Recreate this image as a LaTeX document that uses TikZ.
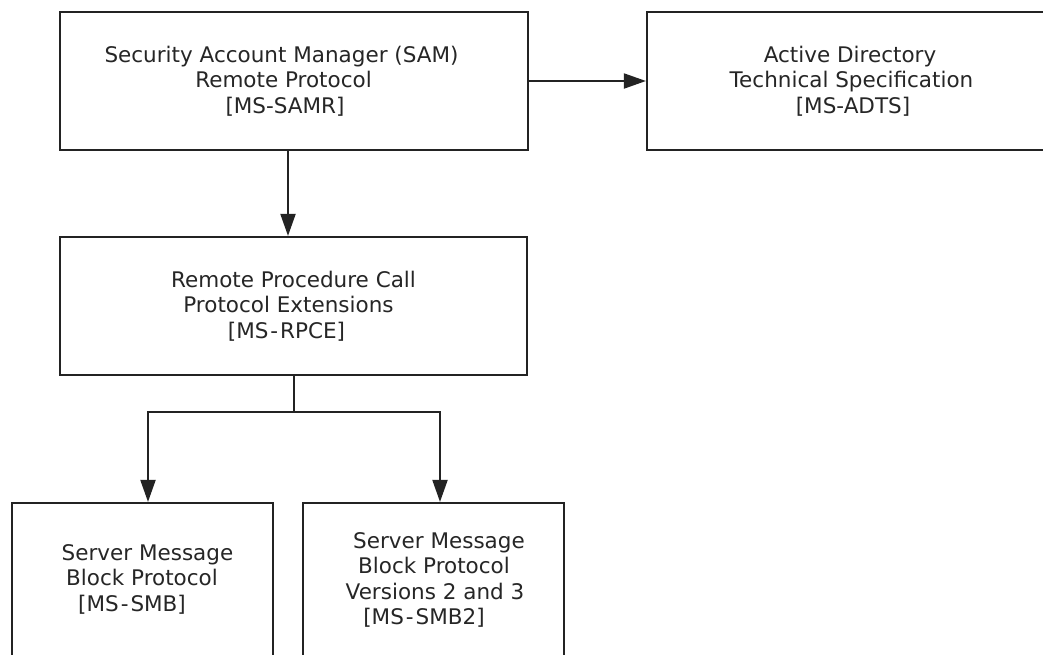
\documentclass[tikz,border=0pt]{standalone}
\usepackage{fontspec}
\setmainfont{DejaVu Sans}
\usetikzlibrary{arrows.meta,calc}
\definecolor{linec}{HTML}{232323}
\definecolor{textc}{HTML}{262626}
% a line of text whose centre is moved by half of #1
\newcommand{\shl}[2]{\makebox[0pt][c]{\hspace*{#1}#2}}
\newcommand{\hy}{\kern2pt-\kern2pt}
\tikzset{
  box/.style={draw=linec, line width=2.2pt, fill=white, align=center, inner sep=0pt,
    font=\fontsize{21.5}{25.5}\selectfont, text=textc},
  lbl/.style={font=\fontsize{21.5}{25.5}\selectfont, text=textc, align=center, inner sep=0pt},
  conn/.style={draw=linec, line width=2pt, -{Triangle[length=22pt,width=15pt]}},
  plain/.style={draw=linec, line width=2pt}
}
\begin{document}
\begin{tikzpicture}[x=1pt,y=-1pt]
\clip (0,0) rectangle (1043,654);
\fill[white] (0,0) rectangle (1043,654);
\node[box, minimum width=468pt, minimum height=138pt] (samr) at (294,81)
  {\shl{-25pt}{Security Account Manager (SAM)}\\\shl{-21pt}{Remote Protocol}\\\shl{-18pt}{[MS-SAMR]}};
\node[box, minimum width=410pt, minimum height=138pt] (adts) at (852,81)
  {\shl{-4pt}{Active Directory}\\\shl{-1pt}{Technical Specification}\\\shl{2pt}{[MS-ADTS]}};
\node[box, minimum width=467pt, minimum height=138pt] (rpce) at (293.5,306)
  {\shl{0pt}{Remote Procedure Call}\\\shl{-10pt}{Protocol Extensions}\\\shl{-14pt}{[MS\hy RPCE]}};
\node[box, minimum width=261pt, minimum height=170pt] (smb) at (142.5,588) {};
\node[box, minimum width=261pt, minimum height=170pt] (smbb) at (433.5,588) {};
\node[lbl] (smbt) at (142.5,579)
  {\shl{10pt}{Server Message}\\\shl{-1pt}{Block Protocol}\\\shl{-21pt}{[MS\hy SMB]}};
\node[lbl] (smbbt) at (433.5,580)
  {\shl{11pt}{Server Message}\\\shl{1pt}{Block Protocol}\\\shl{3pt}{Versions 2 and 3}\\\shl{-19pt}{[MS\hy SMB2]}};
\draw[conn] ($(samr.south)+(-6,0)$) -- ($(rpce.north)+(-5.5,0)$);
\draw[conn] (samr.east) -- (adts.west);
\draw[plain] (rpce.south) -- ++(0,36) coordinate (j);
\draw[conn] (j) -| ($(smb.north)+(5.5,0)$);
\draw[conn] (j) -| ($(smbb.north)+(6.5,0)$);
\end{tikzpicture}
\end{document}
